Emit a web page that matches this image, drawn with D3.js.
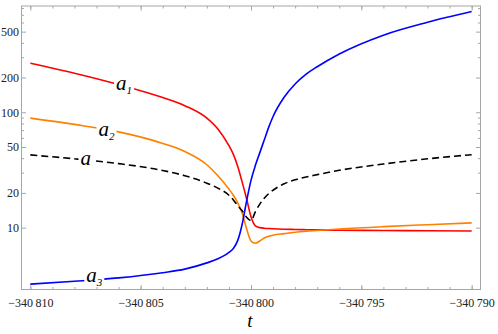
<!DOCTYPE html>
<html>
<head>
<meta charset="utf-8">
<script src="https://d3js.org/d3.v7.min.js"></script>
<style>
  body { margin: 0; background: #fff; }
  .frame { fill: none; stroke: #a6a6a6; stroke-width: 1; }
  .tick line { stroke: #a6a6a6; }
  .domain { display: none; }
  .lbl { font-family: "Liberation Serif", serif; font-style: italic; }
</style>
</head>
<body>
<svg width="498" height="334"></svg>
<script>
// t values (shared grid)
var tGrid = [-340810, -340808, -340806, -340804, -340803, -340802, -340801.5, -340801, -340800.8, -340800.6,
             -340800.4, -340800.2, -340800, -340799.8, -340799.6, -340799.4, -340799.2, -340799, -340798.5,
             -340798, -340797.5, -340797, -340796, -340794, -340792, -340790];

var a1 = [266, 218, 174, 134, 114, 89, 71.6, 51.3, 43.2, 33.9, 24.8, 17.8, 12.4, 10.35, 10.0, 9.88, 9.82, 9.78, 9.7, 9.65, 9.6, 9.56, 9.5, 9.45, 9.4, 9.36];
var a2 = [89, 78.5, 67.6, 53.7, 45.7, 35.1, 28.2, 21.6, 19.1, 16.4, 13.3, 9.77, 7.67, 7.33, 7.67, 8.13, 8.4, 8.6, 8.87, 9.12, 9.3, 9.44, 9.73, 10.2, 10.6, 11];
var a3 = [3.24, 3.43, 3.67, 4.07, 4.37, 4.95, 5.37, 6.1, 6.6, 7.76, 10.7, 17, 25.7, 34.7, 44.7, 57.5, 74, 92, 135, 176, 214, 248, 320, 466, 603, 746];
var aMean = [42.7, 39.5, 35.9, 31.3, 28.2, 24.3, 22.0, 19.1, 17.4, 15.5, 14.0, 12.3, 11.5, 13.8, 16.0, 18.0, 19.7, 21.1, 24.0, 26.0, 27.5, 28.8, 31.4, 35.6, 39.5, 42.9];

var xMajor = [-340810, -340805, -340800, -340795, -340790];
var xMinor = d3.range(-340810, -340789, 1);
var yMajor = [10, 20, 50, 100, 200, 500];
var yMinor = [30, 40, 60, 70, 80, 90, 300, 400, 600, 700, 800];

// curve labels: name, subscript, t, value
var labels = [
  {name: "a", sub: "1", t: -340805.75, v: 172},
  {name: "a", sub: "2", t: -340806.55, v: 69},
  {name: "a", sub: "",  t: -340807.5, v: 38.6},
  {name: "a", sub: "3", t: -340807.1, v: 3.72}
];

var x0 = 21.5, x1 = 480.5, y0 = 6, y1 = 289.5;

var xScale = d3.scaleLinear().domain([-340810.4, -340789.6]).range([x0, x1]);
var yScale = d3.scaleLog().domain([2.91, 834]).range([y1, y0]);

var svg = d3.select("svg");

svg.append("defs").append("clipPath").attr("id", "clip")
  .append("rect").attr("x", x0).attr("y", y0).attr("width", x1 - x0).attr("height", y1 - y0);

function fmtX(d) {
  return "\u2212" + d3.format(",")(Math.abs(d)).replace(",", "\u2009");
}

function styleAxis(g) {
  g.attr("font-family", "Liberation Serif, serif").attr("font-size", 12);
  g.selectAll("text").attr("fill", "#222");
}

// bottom axis
svg.append("g").attr("transform", "translate(0," + y1 + ")")
  .call(d3.axisBottom(xScale).tickValues(xMinor).tickSize(-2.5).tickFormat(""));
svg.append("g").attr("transform", "translate(0," + y1 + ")")
  .call(d3.axisBottom(xScale).tickValues(xMajor).tickSize(-4.5).tickPadding(9).tickFormat(fmtX))
  .call(styleAxis);
// top axis
svg.append("g").attr("transform", "translate(0," + y0 + ")")
  .call(d3.axisTop(xScale).tickValues(xMinor).tickSize(-2.5).tickFormat(""));
svg.append("g").attr("transform", "translate(0," + y0 + ")")
  .call(d3.axisTop(xScale).tickValues(xMajor).tickSize(-4.5).tickFormat(""));
// left axis
svg.append("g").attr("transform", "translate(" + x0 + ",0)")
  .call(d3.axisLeft(yScale).tickValues(yMinor).tickSize(-2.5).tickFormat(""));
svg.append("g").attr("transform", "translate(" + x0 + ",0)")
  .call(d3.axisLeft(yScale).tickValues(yMajor).tickSize(-4.5).tickPadding(2.5).tickFormat(d3.format("d")))
  .call(styleAxis);
// right axis
svg.append("g").attr("transform", "translate(" + x1 + ",0)")
  .call(d3.axisRight(yScale).tickValues(yMinor).tickSize(-2.5).tickFormat(""));
svg.append("g").attr("transform", "translate(" + x1 + ",0)")
  .call(d3.axisRight(yScale).tickValues(yMajor).tickSize(-4.5).tickFormat(""));

svg.append("rect").attr("class", "frame")
  .attr("x", x0).attr("y", y0).attr("width", x1 - x0).attr("height", y1 - y0);

var line = d3.line()
  .x(function(d, i) { return xScale(tGrid[i]); })
  .y(function(d) { return yScale(d); })
  .curve(d3.curveMonotoneX);

var plot = svg.append("g").attr("clip-path", "url(#clip)");

var series = [
  {vals: a1, color: "#ff0000", dash: null},
  {vals: a2, color: "#ff8000", dash: null},
  {vals: aMean, color: "#000000", dash: "7,4"},
  {vals: a3, color: "#0000ff", dash: null}
];

plot.selectAll("path.curve")
  .data(series)
  .enter()
  .append("path")
  .attr("class", "curve")
  .attr("d", function(d) { return line(d.vals); })
  .attr("fill", "none")
  .attr("stroke", function(d) { return d.color; })
  .attr("stroke-width", 1.6)
  .attr("stroke-dasharray", function(d) { return d.dash; });

// labels with white background
var lg = svg.selectAll("g.lab")
  .data(labels)
  .enter()
  .append("g")
  .attr("class", "lab")
  .attr("transform", function(d) { return "translate(" + xScale(d.t) + "," + yScale(d.v) + ")"; });

lg.append("rect")
  .attr("x", function(d) { return d.sub ? -10 : -7; })
  .attr("y", -7)
  .attr("width", function(d) { return d.sub ? 20 : 14; })
  .attr("height", 14)
  .attr("fill", "#fff");

var txt = lg.append("text")
  .attr("class", "lbl")
  .attr("x", function(d) { return d.sub ? -8 : -5; })
  .attr("y", 5)
  .attr("font-size", "21px")
  .attr("fill", "#000");
txt.append("tspan").text(function(d) { return d.name; });
txt.append("tspan")
  .attr("font-size", "11px")
  .attr("dy", 4)
  .text(function(d) { return d.sub; });

svg.append("text")
  .attr("class", "lbl")
  .attr("x", 250)
  .attr("y", 327)
  .attr("text-anchor", "middle")
  .attr("font-size", "19px")
  .text("t");
</script>
</body>
</html>
